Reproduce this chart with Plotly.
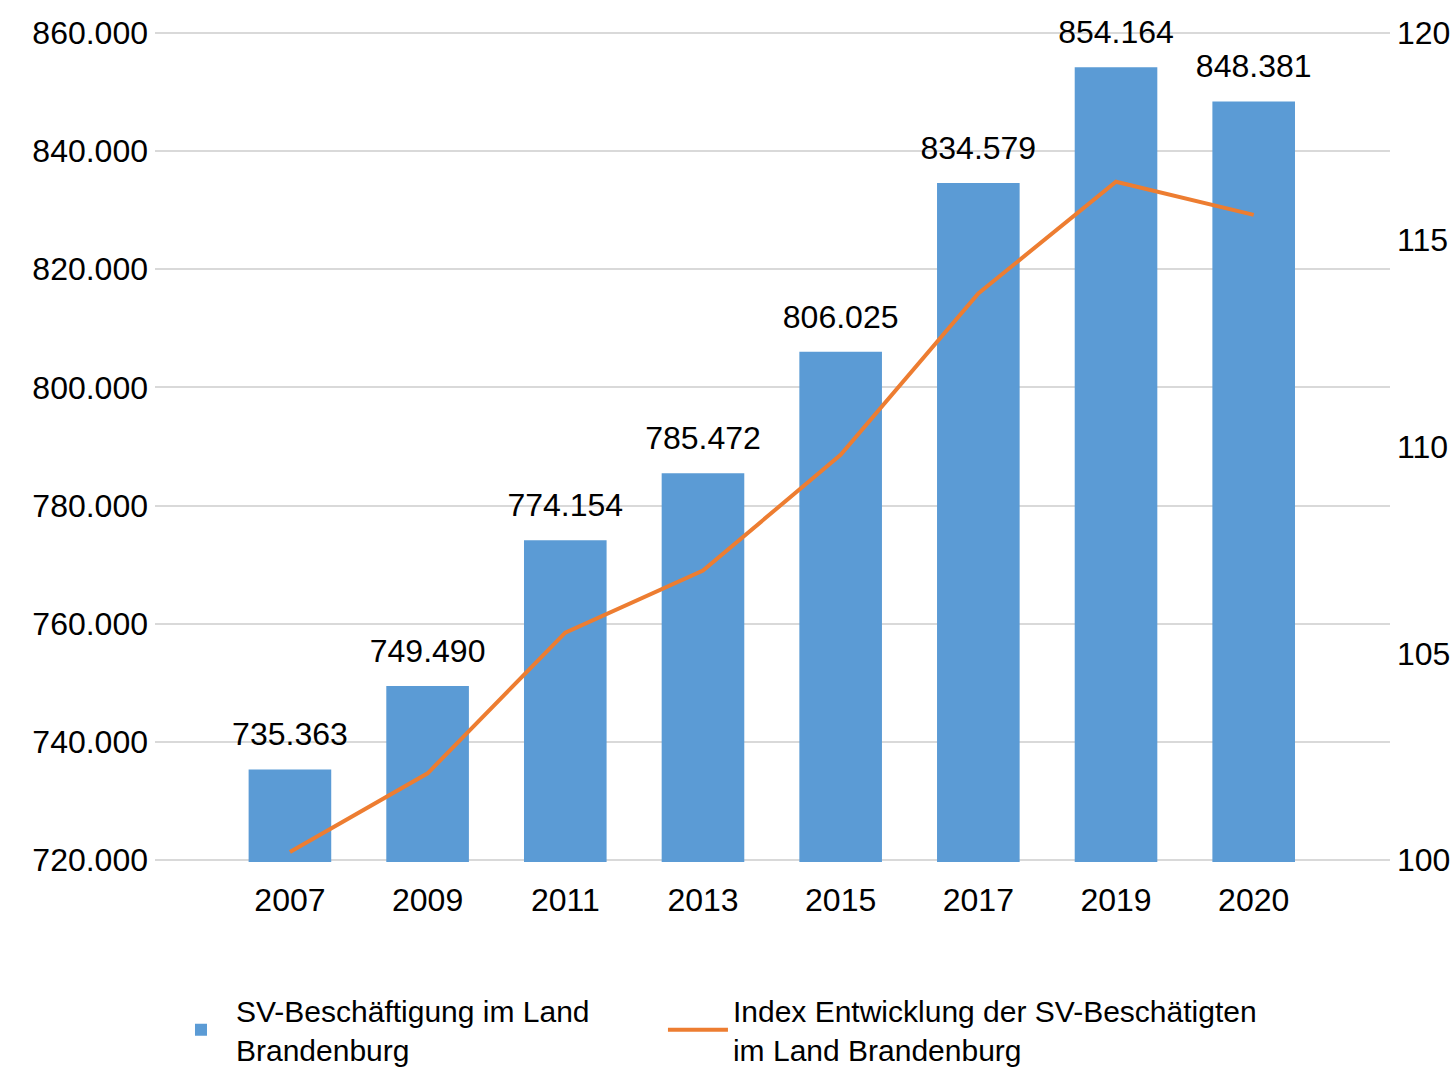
import plotly.graph_objects as go

years = ["2007", "2009", "2011", "2013", "2015", "2017", "2019", "2020"]
employment = [735363, 749490, 774154, 785472, 806025, 834579, 854164, 848381]
index_values = [100.2, 102.1, 105.5, 107.0, 109.8, 113.7, 116.4, 115.6]

bar_name = "SV-Beschäftigung im Land<br>Brandenburg"
line_name = "Index Entwicklung der SV-Beschätigten<br>im Land Brandenburg"

FONT = "Liberation Sans, Arial, sans-serif"
FS = 32
LFS = 30

fig = go.Figure()
fig.add_trace(go.Bar(
    x=years, y=employment, name=bar_name,
    marker=dict(color="#5B9BD5", line=dict(width=0)),
    width=0.6, legend="legend",
))
fig.add_trace(go.Scatter(
    x=years, y=index_values, name=line_name, yaxis="y2",
    mode="lines", line=dict(color="#ED7D31", width=4), legend="legend2",
))
# data labels above the bars
fig.add_trace(go.Scatter(
    x=years, y=employment, mode="markers+text",
    text=[f"{v:,}".replace(",", ".") for v in employment],
    textposition="top center", cliponaxis=False,
    marker=dict(size=24, color="rgba(0,0,0,0)"),
    textfont=dict(size=FS, color="#000000", family=FONT),
    showlegend=False, hoverinfo="skip",
))

fig.update_layout(
    width=1454, height=1072,
    margin=dict(l=155, r=64, t=31, b=210, autoexpand=False),
    paper_bgcolor="white", plot_bgcolor="white",
    separators=",.",
    font=dict(family=FONT, size=FS, color="#000000"),
    showlegend=True,
    legend=dict(
        orientation="h", x=0.0089, xanchor="left", y=-0.1472, yanchor="top",
        font=dict(size=LFS, family=FONT), itemwidth=60,
    ),
    legend2=dict(
        orientation="h", x=0.4113, xanchor="left", y=-0.1472, yanchor="top",
        font=dict(size=LFS, family=FONT), itemwidth=60,
    ),
    xaxis=dict(
        type="category", range=[-0.98, 7.99], showgrid=False, zeroline=False,
        showline=False, ticks="", ticklabelstandoff=16, automargin=False,
        tickfont=dict(size=FS),
    ),
    yaxis=dict(
        range=[719700, 860300], dtick=20000, tick0=720000, tickformat=",d",
        showgrid=True, gridcolor="#D9D9D9", gridwidth=2, zeroline=False,
        showline=False, ticks="", ticklabelstandoff=6, automargin=False,
        tickfont=dict(size=FS),
    ),
    yaxis2=dict(
        overlaying="y", side="right", range=[99.957, 120.043], dtick=5, tick0=100,
        showgrid=False, zeroline=False, showline=False, ticks="",
        ticklabelstandoff=6, automargin=False, tickfont=dict(size=FS),
    ),
)

fig.write_html(
    "out.html",
    config={"displayModeBar": False},
    post_script="document.body.style.margin='0';",
)
